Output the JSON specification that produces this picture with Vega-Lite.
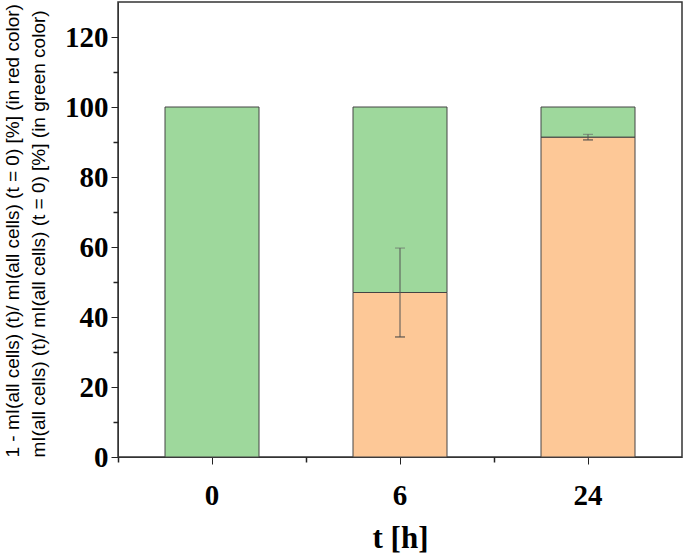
{
  "$schema": "https://vega.github.io/schema/vega-lite/v6.json",
  "width": 564,
  "height": 455,
  "autosize": {"type": "none"},
  "padding": {"left": 118, "top": 2, "right": 3, "bottom": 100},
  "config": {
    "view": {"stroke": "#333", "strokeWidth": 1.5},
    "axis": {
      "grid": false,
      "labelFont": "Liberation Serif",
      "labelFontWeight": "bold",
      "labelFontSize": 29,
      "labelColor": "#000",
      "tickColor": "#222",
      "domainColor": "#333",
      "titleColor": "#000"
    }
  },
  "datasets": {
    "bars": [
      {"t": "0", "part": "green", "value": 100},
      {"t": "6", "part": "red", "value": 47},
      {"t": "6", "part": "green", "value": 53},
      {"t": "24", "part": "red", "value": 91.4},
      {"t": "24", "part": "green", "value": 8.6}
    ],
    "err": [
      {"t": "6", "lo": 34.3, "hi": 59.7},
      {"t": "24", "lo": 90.6, "hi": 92.2}
    ]
  },
  "layer": [
    {
      "data": {"name": "bars"},
      "mark": {"type": "bar", "stroke": "#444", "strokeWidth": 1},
      "encoding": {
        "x": {
          "field": "t", "type": "nominal", "sort": ["0", "6", "24"],
          "scale": {"paddingInner": 0.5, "paddingOuter": 0.25},
          "axis": {
            "orient": "bottom",
            "title": "t [h]",
            "titleFont": "Liberation Serif",
            "titleFontWeight": "bold",
            "titleFontSize": 31,
            "titlePadding": 13,
            "labelAngle": 0,
            "labelPadding": 17,
            "tickSize": 7
          }
        },
        "y": {
          "field": "value", "type": "quantitative", "stack": "zero",
          "scale": {"domain": [0, 130], "nice": false},
          "axis": {
            "orient": "left",
            "values": [0, 20, 40, 60, 80, 100, 120],
            "tickSize": 7,
            "labelPadding": 3,
            "title": [
              "1 - mI(all cells) (t)/ mI(all cells) (t = 0) [%]   (in red color)",
              "mI(all cells) (t)/ mI(all cells) (t = 0) [%] (in green color)"
            ],
            "titleFont": "Liberation Sans",
            "titleFontWeight": "normal",
            "titleFontSize": 19,
            "titleLineHeight": 26,
            "titleAngle": 270,
            "titleBaseline": "top",
            "titleAlign": "left",
            "titleX": -115,
            "titleY": 455
          }
        },
        "color": {
          "field": "part", "type": "nominal",
          "scale": {"domain": ["red", "green"], "range": ["#FDC897", "#9ED89C"]},
          "legend": null
        },
        "order": {"field": "part", "sort": "descending"}
      }
    },
    {
      "data": {"name": "err"},
      "mark": {"type": "rule", "color": "#555", "strokeWidth": 1},
      "encoding": {
        "x": {
          "field": "t", "type": "nominal", "sort": ["0", "6", "24"],
          "axis": {
            "orient": "bottom",
            "values": ["0", "6", "24"],
            "bandPosition": -0.5,
            "labels": false,
            "domain": false,
            "tickSize": 5,
            "tickWidth": 1.5,
            "title": null
          }
        },
        "y": {
          "field": "lo", "type": "quantitative",
          "axis": {
            "orient": "left",
            "values": [10, 30, 50, 70, 90, 110],
            "labels": false,
            "domain": false,
            "tickSize": 5,
            "tickWidth": 1.5,
            "title": null
          }
        },
        "y2": {"field": "hi"}
      }
    },
    {
      "data": {"name": "err"},
      "mark": {"type": "tick", "color": "#444", "size": 10, "thickness": 1.5, "orient": "horizontal"},
      "encoding": {
        "x": {"field": "t", "type": "nominal", "sort": ["0", "6", "24"], "axis": null},
        "y": {"field": "lo", "type": "quantitative", "axis": null}
      }
    },
    {
      "data": {"name": "err"},
      "mark": {"type": "tick", "color": "#666", "size": 10, "thickness": 1, "orient": "horizontal"},
      "encoding": {
        "x": {"field": "t", "type": "nominal", "sort": ["0", "6", "24"], "axis": null},
        "y": {"field": "hi", "type": "quantitative", "axis": null}
      }
    }
  ],
  "resolve": {"axis": {"x": "independent", "y": "independent"}}
}
